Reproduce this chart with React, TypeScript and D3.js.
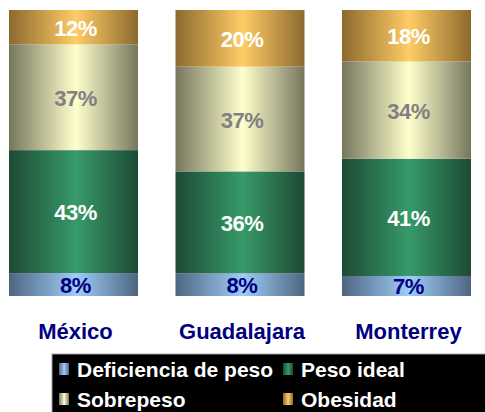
import React from "react";
import * as d3 from "d3";

const cities = ["México", "Guadalajara", "Monterrey"];
const seriesKeys = ["Deficiencia de peso", "Peso ideal", "Sobrepeso", "Obesidad"];
const deficiencia = [8, 8, 7];
const pesoIdeal = [43, 36, 41];
const sobrepeso = [37, 37, 34];
const obesidad = [12, 20, 18];

const edgeColors = ["#4d6680", "#1d4a33", "#76765e", "#8c6a2e"];
const centerColors = ["#a0ccf8", "#379a6a", "#ffffcc", "#ffcc66"];
const labelColors = ["#000080", "#ffffff", "#808080", "#ffffff"];

const FONT = "'Liberation Sans', Arial, sans-serif";

const App: React.FC = () => {
  const width = 485;
  const height = 412;

  const rows = cities.map((c, i) => ({
    city: c,
    "Deficiencia de peso": deficiencia[i],
    "Peso ideal": pesoIdeal[i],
    Sobrepeso: sobrepeso[i],
    Obesidad: obesidad[i],
  }));

  const stacked = d3.stack<any>().keys(seriesKeys).offset(d3.stackOffsetExpand)(rows);

  const x = d3.scaleBand().domain(cities).range([9, 471]).paddingInner(0.225).paddingOuter(0);
  const y = d3.scaleLinear().domain([0, 1]).range([296, 10]);

  return (
    <svg
      width={width}
      height={height}
      style={{ position: "absolute", left: 0, top: 0, fontFamily: FONT }}
    >
      <defs>
        {seriesKeys.map((k, i) => (
          <linearGradient key={k} id={`grad${i}`} x1="0" x2="1" y1="0" y2="0">
            <stop offset="0" stopColor={edgeColors[i]} />
            <stop offset="0.52" stopColor={centerColors[i]} />
            <stop offset="1" stopColor={edgeColors[i]} />
          </linearGradient>
        ))}
      </defs>
      <rect width={width} height={height} fill="#ffffff" />

      {/* stacked bars */}
      {stacked.map((s, si) => (
        <g key={s.key}>
          {s.map((d, ci) => {
            const x0 = x(cities[ci])!;
            const y0 = y(d[0]);
            const y1 = y(d[1]);
            return (
              <g key={cities[ci]}>
                <rect
                  x={x0}
                  y={y1}
                  width={x.bandwidth()}
                  height={y0 - y1}
                  fill={`url(#grad${si})`}
                />
                <text
                  x={x0 + x.bandwidth() / 2 + 2}
                  y={(y0 + y1) / 2 + 1}
                  textAnchor="middle"
                  dominantBaseline="central"
                  fontSize={22}
                  fontWeight="bold"
                  letterSpacing={-0.5}
                  fill={labelColors[si]}
                >
                  {(d.data as any)[s.key]}%
                </text>
              </g>
            );
          })}
        </g>
      ))}

      {/* category labels */}
      {cities.map((c) => (
        <text
          key={c}
          x={x(c)! + x.bandwidth() / 2 + 2}
          y={339}
          textAnchor="middle"
          fontSize={22}
          fontWeight="bold"
          fill="#000080"
        >
          {c}
        </text>
      ))}

      {/* legend */}
      <rect x={52} y={354} width={440} height={70} fill="#000000" stroke="#a0a0a0" strokeWidth={1} />
      {seriesKeys.map((k, i) => {
        const col = i % 2;
        const row = Math.floor(i / 2);
        const lx = col === 0 ? 59 : 283;
        const ly = 369 + row * 30;
        return (
          <g key={k}>
            <rect x={lx} y={ly - 6} width={10} height={12} fill={`url(#grad${i})`} />
            <text
              x={lx + 18}
              y={ly}
              dominantBaseline="central"
              fontSize={21}
              fontWeight="bold"
              fill="#ffffff"
            >
              {k}
            </text>
          </g>
        );
      })}
    </svg>
  );
};

export default App;
